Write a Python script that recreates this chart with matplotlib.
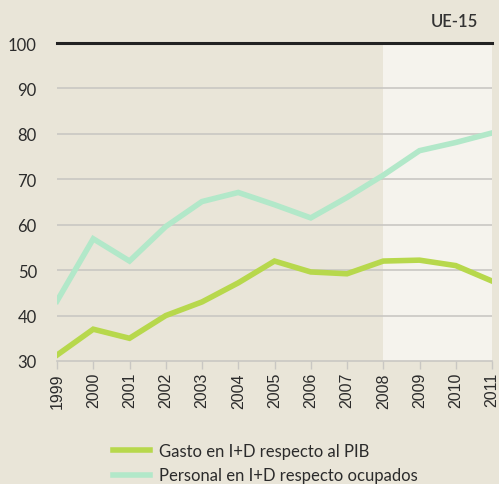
import matplotlib

matplotlib.use("Agg")
import matplotlib.pyplot as plt

years = list(range(1999, 2012))
gasto = [31.3, 37.0, 35.0, 40.0, 43.0, 47.2, 52.0, 49.6, 49.2, 52.0, 52.2, 51.0, 47.6]
personal = [43.2, 56.9, 52.0, 59.6, 65.1, 67.1, 64.4, 61.5, 66.0, 70.9, 76.3, 78.1, 80.2]
yticks = [30, 40, 50, 60, 70, 80, 90, 100]
forecast_start = 2008

BG = "#E9E5D8"
LIGHT = "#F5F3ED"
C_GASTO = "#B7D84C"
C_PERS = "#B2E8C9"
TXT = "#2B2B2B"

fig = plt.figure(figsize=(4.99, 4.85), dpi=100, facecolor=BG)
ax = fig.add_axes([57 / 499, 1 - 362 / 485, 435 / 499, 318 / 485])
ax.set_facecolor(BG)

ax.axvspan(forecast_start, years[-1], color=LIGHT, zorder=0, lw=0)
for v in yticks[1:-1]:
    ax.axhline(v, color="#C9C7C3", lw=1.2, zorder=1)

ax.plot(years, gasto, color=C_GASTO, lw=4, solid_joinstyle="miter", zorder=3,
        label="Gasto en I+D respecto al PIB")
ax.plot(years, personal, color=C_PERS, lw=4, solid_joinstyle="miter", zorder=3,
        label="Personal en I+D respecto ocupados")

ax.set_xlim(years[0], years[-1])
ax.set_ylim(30, 100)
ax.set_yticks(yticks)
ax.set_xticks(years)
ax.set_xticklabels([str(y) for y in years], rotation=90, fontsize=11.5,
                   family="Liberation Sans", color=TXT)
ax.set_yticklabels([str(v) for v in yticks], fontsize=12, family="Lato", color=TXT)
ax.tick_params(axis="y", length=0, pad=14.5)
ax.tick_params(axis="x", length=6, width=1, color="#C9C7C3", pad=2)

for s in ("left", "right"):
    ax.spines[s].set_visible(False)
ax.spines["bottom"].set_color("#C9C7C3")
ax.spines["bottom"].set_linewidth(1.2)
ax.spines["top"].set_color("#222222")
ax.spines["top"].set_linewidth(2.2)
ax.spines["top"].set_zorder(4)

fig.text(478 / 499, 1 - 22 / 485, "UE-15", ha="right", va="center",
         fontsize=12, fontweight="semibold", family="Lato", color="#333333")

h, l = ax.get_legend_handles_labels()
fig.legend(h, l, loc="upper left", bbox_to_anchor=(98 / 499, 1 - 429 / 485),
           frameon=False, handlelength=2.2, handletextpad=0.55, labelspacing=0.5,
           prop={"family": "Lato", "size": 12}, labelcolor=TXT)

fig.savefig("out.png", dpi=100, facecolor=BG)
